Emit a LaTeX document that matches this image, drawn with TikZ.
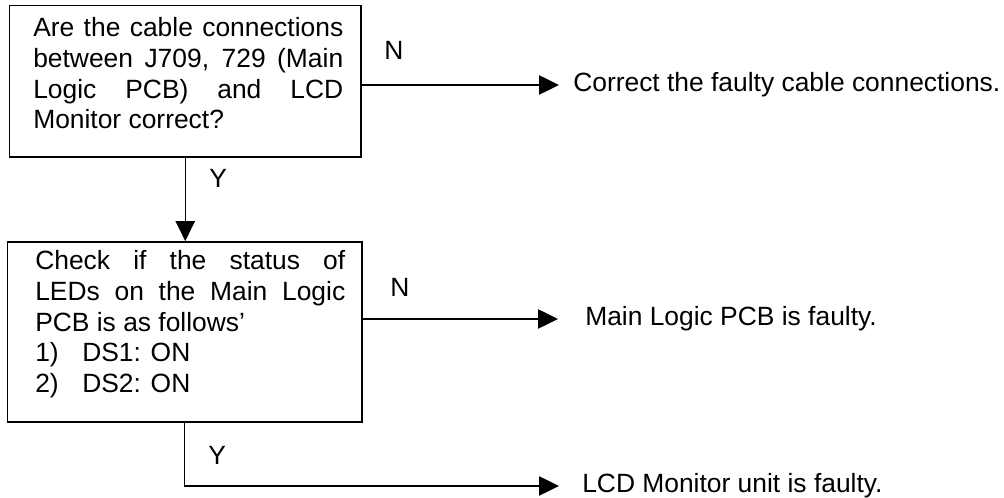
\documentclass[tikz,border=0pt]{standalone}
\usepackage{fontspec}
\setmainfont{Liberation Sans}
\usetikzlibrary{arrows.meta}
\begin{document}
\begin{tikzpicture}[x=0.75pt,y=-0.75pt,
  txt/.style={font=\fontsize{19.8pt}{23pt}\selectfont, inner sep=0pt},
  qbox/.style={draw, line width=1.3pt, inner sep=0pt},
  qtext/.style={txt, anchor=base west, text width=232.5pt, align=justify},
  lbl/.style={txt, anchor=base west},
  result/.style={txt, anchor=west, inner ysep=0pt, text height=14.2pt, text depth=4.2pt},
  arr/.style={line width=1pt, -{Triangle[length=15pt,width=14.5pt]}}
]
\useasboundingbox (0,0) rectangle (1004,498);

% decision boxes
\node[qbox, minimum width=263.6pt, minimum height=113.6pt] (q1) at (185.25,81.25) {};
\node[qbox, minimum width=265.9pt, minimum height=135pt] (q2) at (184.75,332) {};

% texts inside the boxes
\node[qtext] (t1) at (33,37) {Are the cable connections\linebreak
between J709, 729 (Main\linebreak
Logic PCB) and LCD\linebreak
Monitor correct?};
\node[qtext] (t2) at (35,270) {Check if the status of\linebreak
LEDs on the Main Logic\linebreak
PCB is as follows’\par
\makebox[35.25pt][l]{1)}DS1: ON\par
\makebox[35.25pt][l]{2)}DS2: ON};

% branch labels
\node[lbl] (n1) at (384,60) {N};
\node[lbl] (y1) at (209,188) {Y};
\node[lbl] (n2) at (390,297) {N};
\node[lbl] (y2) at (208,465) {Y};

% outcomes
\node[result, inner xsep=10.5pt] (r1) at (559,85) {Correct the faulty cable connections.};
\node[result, inner xsep=20.25pt] (r2) at (558,319) {Main Logic PCB is faulty.};
\node[result, inner xsep=17.25pt] (r3) at (559,486) {LCD Monitor unit is faulty.};

% connectors
\draw[arr] (q1.east |- r1.west) -- (r1.west);
\draw[arr] (q1.south) -- (q1.south |- q2.north);
\draw[arr] (q2.east |- r2.west) -- (r2.west);
\draw[arr] (q2.south) |- (r3.west);
\end{tikzpicture}
\end{document}
